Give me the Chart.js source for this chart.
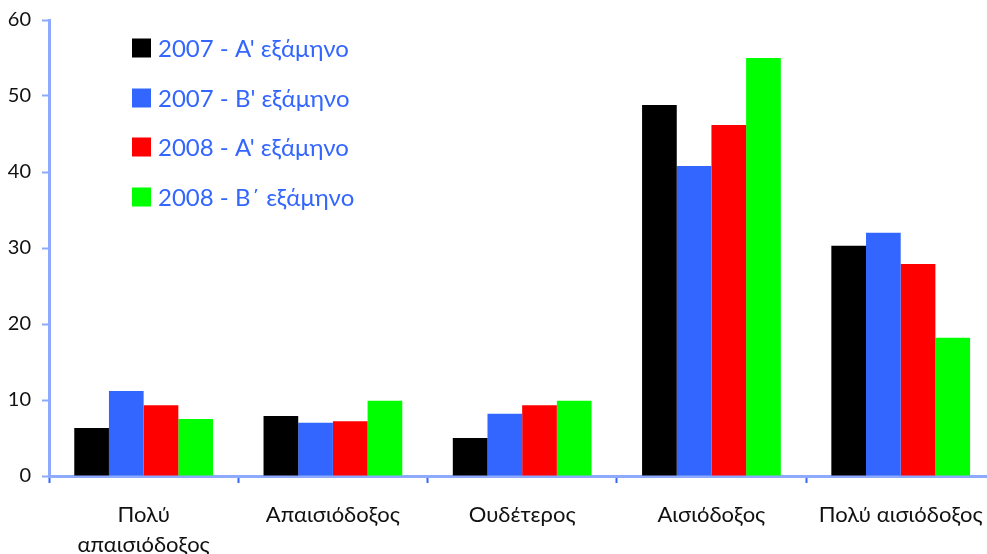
<!DOCTYPE html>
<html>
<head>
<meta charset="utf-8">
<script src="https://cdn.jsdelivr.net/npm/chart.js@4.4.1/dist/chart.umd.min.js"></script>
<style>
  html, body { margin: 0; padding: 0; background: #fff; overflow: hidden; }
  #wrap { position: relative; width: 1000px; height: 554px; }
</style>
</head>
<body>
<div id="wrap"><canvas id="chart"></canvas></div>
<script>
// categories (x axis)
const categories = [['Πολύ', 'απαισιόδοξος'], 'Απαισιόδοξος', 'Ουδέτερος', 'Αισιόδοξος', 'Πολύ αισιόδοξος'];

// series
const seriesNames = ['2007 - Α\' εξάμηνο', '2007 - Β\' εξάμηνο', '2008 - Α\' εξάμηνο', '2008 - Β΄ εξάμηνο'];
const s2007a = [6.3, 7.9, 5.0, 48.8, 30.3];
const s2007b = [11.2, 7.0, 8.2, 40.8, 32.0];
const s2008a = [9.3, 7.2, 9.3, 46.2, 27.9];
const s2008b = [7.5, 9.9, 9.9, 55.0, 18.2];
const colors = ['#000000', '#3366ff', '#ff0000', '#00ff00'];

// y ticks
const yTicks = [0, 10, 20, 30, 40, 50, 60];

const axisBlue = '#8eaaff';
const FONT = 'Lato, "Noto Sans", sans-serif';

// legend drawn inside the plot, stacked vertically
const insideLegend = {
  id: 'insideLegend',
  afterDraw(chart) {
    const ctx = chart.ctx;
    const rows = [48, 98, 147, 197];
    ctx.save();
    ctx.font = '24px ' + FONT;
    ctx.textBaseline = 'middle';
    chart.data.datasets.forEach((ds, i) => {
      const y = rows[i];
      ctx.fillStyle = ds.backgroundColor;
      ctx.fillRect(132, y - 9.5, 19, 19);
      ctx.fillStyle = '#3366ff';
      ctx.fillText(ds.label, 158, y + 1);
    });
    ctx.restore();
  }
};

const data = [s2007a, s2007b, s2008a, s2008b];

new Chart(document.getElementById('chart'), {
  type: 'bar',
  data: {
    labels: categories,
    datasets: data.map((d, i) => ({
      label: seriesNames[i],
      data: d,
      backgroundColor: colors[i],
      borderWidth: 0,
      barPercentage: 1.0,
      categoryPercentage: 0.733
    }))
  },
  options: {
    responsive: true,
    maintainAspectRatio: false,
    animation: false,
    layout: { padding: { top: 20, right: 3, left: 0, bottom: 0 } },
    plugins: {
      legend: { display: false },
      tooltip: { enabled: false }
    },
    scales: {
      x: {
        grid: {
          offset: true,
          drawOnChartArea: false,
          drawTicks: true,
          tickLength: 7,
          tickColor: '#3366ff',
          tickWidth: 2
        },
        border: { color: axisBlue, width: 3 },
        ticks: {
          color: '#111',
          font: { family: FONT, size: 22, lineHeight: 1.36 },
          padding: 17,
          maxRotation: 0,
          autoSkip: false
        },
        afterFit(scale) { scale.height = 78; }
      },
      y: {
        min: 0,
        max: 60,
        afterBuildTicks(scale) { scale.ticks = yTicks.map(v => ({ value: v })); },
        grid: {
          drawOnChartArea: false,
          drawTicks: true,
          tickLength: 7,
          tickColor: axisBlue,
          tickWidth: 2
        },
        border: { color: axisBlue, width: 3 },
        ticks: {
          color: '#111',
          font: { family: FONT, size: 20 },
          padding: 11
        },
        afterFit(scale) { scale.width = 49; scale.paddingTop = 0; scale.paddingBottom = 0; }
      }
    }
  },
  plugins: [insideLegend]
});
</script>
</body>
</html>
